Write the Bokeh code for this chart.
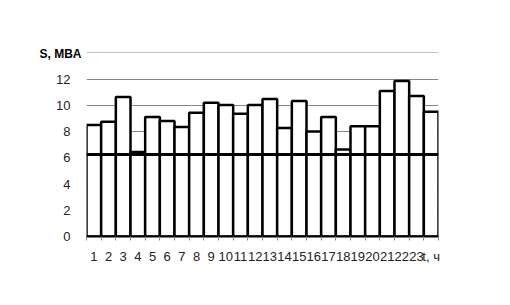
from bokeh.plotting import figure
from bokeh.models import FixedTicker, Span, Title, Range1d
from bokeh.embed import file_html
from bokeh.resources import INLINE

hours = list(range(1, 25))
tick_labels = [str(h) for h in range(1, 24)] + ["t, ч"]
y_title = "S, MBA"
load = [8.5, 8.75, 10.63, 6.45, 9.11, 8.81, 8.35, 9.44, 10.2, 10.02, 9.36, 10.02,
        10.48, 8.28, 10.33, 8.0, 9.11, 6.63, 8.41, 8.41, 11.09, 11.85, 10.71, 9.52]
average = 6.25
y_ticks = [0, 2, 4, 6, 8, 10, 12, 14]

W, H = 510, 305
BL, BR, BT, BB = 86, 72, 52, 69
p = figure(width=W, height=H, output_backend="svg", toolbar_location=None,
           x_range=Range1d(0.5, 24.5), y_range=Range1d(0, 14.03),
           min_border_left=BL, min_border_right=BR, min_border_top=BT, min_border_bottom=BB)
p.outline_line_color = None
p.background_fill_color = "white"

p.vbar(x=hours, top=load, width=1.0, bottom=0, fill_color="white",
       line_color="black", line_width=2.5)
p.add_layout(Span(location=average, dimension="width", line_color="black", line_width=3))

font = "Liberation Sans"
p.xaxis.ticker = FixedTicker(ticks=hours, minor_ticks=[h + 0.5 for h in [0] + hours])
p.xaxis.major_label_overrides = {h: lab for h, lab in zip(hours, tick_labels)}
p.xaxis.major_tick_out = 0
p.xaxis.major_tick_in = 0
p.xaxis.minor_tick_out = 4
p.xaxis.minor_tick_in = 0
p.xaxis.minor_tick_line_color = "#868686"
p.xaxis.axis_line_color = "black"
p.xaxis.axis_line_width = 2
p.xaxis.major_label_text_font = font
p.xaxis.major_label_text_font_size = "13px"
p.xaxis.major_label_text_color = "#222222"
p.xaxis.major_label_standoff = 8
p.xgrid.grid_line_color = None

p.yaxis.ticker = FixedTicker(ticks=y_ticks)
p.yaxis.major_label_overrides = {14: ""}
p.yaxis.axis_line_color = None
p.yaxis.major_tick_line_color = None
p.yaxis.minor_tick_line_color = None
p.yaxis.major_label_text_font = font
p.yaxis.major_label_text_font_size = "13px"
p.yaxis.major_label_text_color = "#222222"
p.yaxis.major_label_standoff = 10
p.ygrid.ticker = FixedTicker(ticks=y_ticks)
p.ygrid.grid_line_color = "#868686"
p.ygrid.grid_line_width = 1

p.add_layout(Title(text=y_title, align="left", offset=-47, standoff=-17,
                   text_font=font, text_font_size="12px", text_font_style="bold",
                   text_color="black"), "above")

open("out.html", "w").write(file_html(p, INLINE))
